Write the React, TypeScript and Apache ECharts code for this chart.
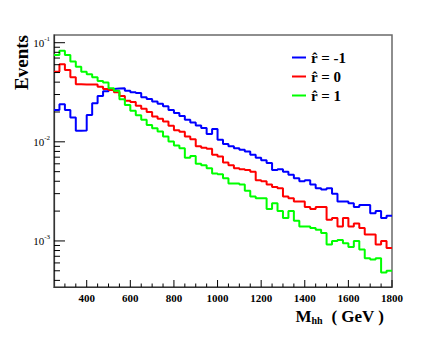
import React, { useEffect, useRef } from 'react';
import * as echarts from 'echarts';

// Lower edges of the M_hh bins (GeV) and the last upper edge
const massBins = [
  250, 275, 300, 325, 350, 375, 400, 425, 450, 475, 500, 525, 550, 575, 600, 625,
  650, 675, 700, 725, 750, 775, 800, 825, 850, 875, 900, 925, 950, 975, 1000, 1025,
  1050, 1075, 1100, 1125, 1150, 1175, 1200, 1225, 1250, 1275, 1300, 1325, 1350, 1375,
  1400, 1425, 1450, 1475, 1500, 1525, 1550, 1575, 1600, 1625, 1650, 1675, 1700, 1725,
  1750, 1775,
];
const massUpperEdge = 1800;

const eventsRhatMinus1 = [
  0.021, 0.024, 0.021, 0.0176, 0.0129, 0.013, 0.0187, 0.0245, 0.029, 0.0323, 0.0342, 0.0345,
  0.0348, 0.0327, 0.0316, 0.031, 0.0282, 0.027, 0.0255, 0.0242, 0.0228, 0.021, 0.0195, 0.0182,
  0.0167, 0.0157, 0.0146, 0.0138, 0.012, 0.0135, 0.0105, 0.0095, 0.009, 0.0086, 0.0083, 0.008,
  0.0074, 0.0069, 0.0065, 0.0061, 0.0052, 0.0053, 0.005, 0.00465, 0.0043, 0.004, 0.0041, 0.0037,
  0.0034, 0.0033, 0.0034, 0.003, 0.0025, 0.0025, 0.0024, 0.0022, 0.0023, 0.0023, 0.0019, 0.002,
  0.0017, 0.0018,
];
const eventsRhat0 = [
  0.051, 0.0605, 0.053, 0.0448, 0.038, 0.0378, 0.0378, 0.0378, 0.036, 0.0342, 0.0334, 0.0316,
  0.029, 0.0259, 0.0252, 0.0231, 0.0215, 0.02, 0.018, 0.0171, 0.016, 0.0145, 0.0131, 0.0126,
  0.0113, 0.0106, 0.009, 0.0087, 0.0085, 0.0074, 0.0071, 0.0062, 0.0058, 0.0054, 0.0053, 0.0052,
  0.005, 0.0041, 0.004, 0.0037, 0.0035, 0.0034, 0.0028, 0.0027, 0.0025, 0.0025, 0.0022, 0.0021,
  0.0022, 0.0022, 0.00164, 0.0017, 0.0014, 0.0017, 0.0014, 0.0015, 0.00135, 0.00116, 0.00116, 0.00092,
  0.001, 0.00085,
];
const eventsRhat1 = [
  0.075, 0.083, 0.075, 0.0645, 0.0573, 0.051, 0.048, 0.0448, 0.0411, 0.0396, 0.0347, 0.0327,
  0.0269, 0.0235, 0.0206, 0.0185, 0.0167, 0.0148, 0.0137, 0.0127, 0.0113, 0.0101, 0.0092, 0.0086,
  0.0069, 0.0072, 0.006, 0.0058, 0.0054, 0.0048, 0.0047, 0.0043, 0.0038, 0.0038, 0.0037, 0.0032,
  0.0028, 0.0027, 0.0027, 0.0021, 0.0024, 0.002, 0.0017, 0.002, 0.0016, 0.0014, 0.0014, 0.00135,
  0.0013, 0.0012, 0.00092, 0.001, 0.00102, 0.00095, 0.00087, 0.001, 0.00082, 0.00067, 0.00065, 0.00067,
  0.00048, 0.0005,
];

const seriesNames = ['r\u0302 = -1', 'r\u0302 = 0', 'r\u0302 = 1'];
const seriesColors = ['#0000ff', '#ff0000', '#00ff00'];

// Axis ticks
const xMajorTicks = [400, 600, 800, 1000, 1200, 1400, 1600, 1800];
const xMinorTicks = [300, 350, 450, 500, 550, 650, 700, 750, 850, 900, 950, 1050, 1100, 1150, 1250, 1300, 1350, 1450, 1500, 1550, 1650, 1700, 1750];
const yMajorTicks = [0.001, 0.01, 0.1];
const yMinorTicks = [
  0.0004, 0.0005, 0.0006, 0.0007, 0.0008, 0.0009,
  0.002, 0.003, 0.004, 0.005, 0.006, 0.007, 0.008, 0.009,
  0.02, 0.03, 0.04, 0.05, 0.06, 0.07, 0.08, 0.09,
];

const X_MIN = 250;
const X_MAX = 1800;
const Y_MIN = 3.43e-4;
const Y_MAX = 0.1196;

const FONT = "'Liberation Serif', 'Times New Roman', serif";

function histData(values: number[]) {
  const pts: [number, number][] = massBins.map((x, i) => [x, values[i]]);
  pts.push([massUpperEdge, values[values.length - 1]]);
  return pts;
}

export default function App() {
  const ref = useRef<HTMLDivElement>(null);

  useEffect(() => {
    if (!ref.current) return;
    const chart = echarts.init(ref.current, undefined, { renderer: 'svg' });

    // tick data: [x, y, axis(0 = x, 1 = y), length]
    const tickData: number[][] = [];
    xMajorTicks.forEach((v) => tickData.push([v, Y_MIN, 0, 7]));
    xMinorTicks.forEach((v) => tickData.push([v, Y_MIN, 0, 3.5]));
    yMajorTicks.forEach((v) => tickData.push([X_MIN, v, 1, 11]));
    yMinorTicks.forEach((v) => tickData.push([X_MIN, v, 1, 6]));

    const lineSeries = [eventsRhatMinus1, eventsRhat0, eventsRhat1].map((vals, i) => ({
      name: seriesNames[i],
      type: 'line',
      step: 'end',
      showSymbol: false,
      symbol: 'none',
      data: histData(vals),
      lineStyle: { color: seriesColors[i], width: 2 },
      itemStyle: { color: seriesColors[i] },
      z: 3,
    }));

    chart.setOption({
      animation: false,
      backgroundColor: '#ffffff',
      grid: {
        left: 54,
        right: 44,
        top: 35,
        bottom: 67,
        show: true,
        borderColor: '#6a6a6a',
        borderWidth: 1.5,
        outerBoundsMode: 'none',
      },
      legend: {
        orient: 'vertical',
        left: 287,
        top: 45,
        itemWidth: 14,
        itemHeight: 2,
        itemGap: 4,
        icon: 'rect',
        data: seriesNames,
        textStyle: {
          fontFamily: FONT,
          fontWeight: 'bold',
          fontSize: 15,
          lineHeight: 15,
          color: '#000',
        },
      },
      xAxis: {
        type: 'value',
        min: X_MIN,
        max: X_MAX,
        interval: 50,
        splitLine: { show: false },
        axisTick: { show: false },
        axisLine: { lineStyle: { color: '#333', width: 1.2 } },
        axisLabel: {
          margin: 5,
          fontFamily: FONT,
          fontWeight: 'bold',
          fontSize: 11,
          color: '#000',
          showMinLabel: false,
          formatter: (v: number) => (xMajorTicks.indexOf(v) >= 0 ? String(v) : ''),
        },
      },
      yAxis: {
        type: 'log',
        logBase: 10,
        min: Y_MIN,
        max: Y_MAX,
        splitLine: { show: false },
        axisTick: { show: false },
        axisLine: { lineStyle: { color: '#333', width: 1.2 } },
        axisLabel: {
          margin: 4,
          color: '#000',
          formatter: (v: number) => {
            const e = Math.log10(v);
            const r = Math.round(e);
            if (Math.abs(e - r) > 1e-6) return '';
            return '{b|10}{s|' + r + '}';
          },
          rich: {
            b: { fontFamily: FONT, fontSize: 11, color: '#000' },
            s: { fontFamily: FONT, fontSize: 7, color: '#000', padding: [0, 0, 7, 0] },
          },
        },
      },
      graphic: [
        {
          type: 'text',
          x: 21,
          y: 35,
          rotation: Math.PI / 2,
          style: {
            text: 'Events',
            fontFamily: FONT,
            fontWeight: 'bold',
            fontSize: 19,
            fill: '#000',
            textAlign: 'right',
            textVerticalAlign: 'middle',
          },
        },
        {
          type: 'text',
          x: 384,
          y: 316,
          style: {
            text: '{m|M}{h|hh}{g|  ( GeV )}',
            textAlign: 'right',
            textVerticalAlign: 'middle',
            rich: {
              m: { fontFamily: FONT, fontWeight: 'bold', fontSize: 17, fill: '#000' },
              h: { fontFamily: FONT, fontWeight: 'bold', fontSize: 10, fill: '#000', padding: [9, 0, 0, 0] },
              g: { fontFamily: FONT, fontWeight: 'bold', fontSize: 17, fill: '#000' },
            },
          },
        },
      ],
      series: [
        ...lineSeries,
        {
          type: 'custom',
          name: 'ticks',
          clip: false,
          silent: true,
          z: 5,
          data: tickData,
          renderItem: (params: any, api: any) => {
            const p = api.coord([api.value(0), api.value(1)]);
            const axis = api.value(2);
            const len = api.value(3);
            const shape =
              axis === 0
                ? { x1: p[0], y1: p[1], x2: p[0], y2: p[1] - len }
                : { x1: p[0], y1: p[1], x2: p[0] + len, y2: p[1] };
            return {
              type: 'line',
              shape,
              style: { stroke: '#000', lineWidth: 1 },
            };
          },
        },
      ],
    });

    return () => chart.dispose();
  }, []);

  return (
    <div
      ref={ref}
      style={{ position: 'fixed', left: 0, top: 0, width: 436, height: 354 }}
    />
  );
}
